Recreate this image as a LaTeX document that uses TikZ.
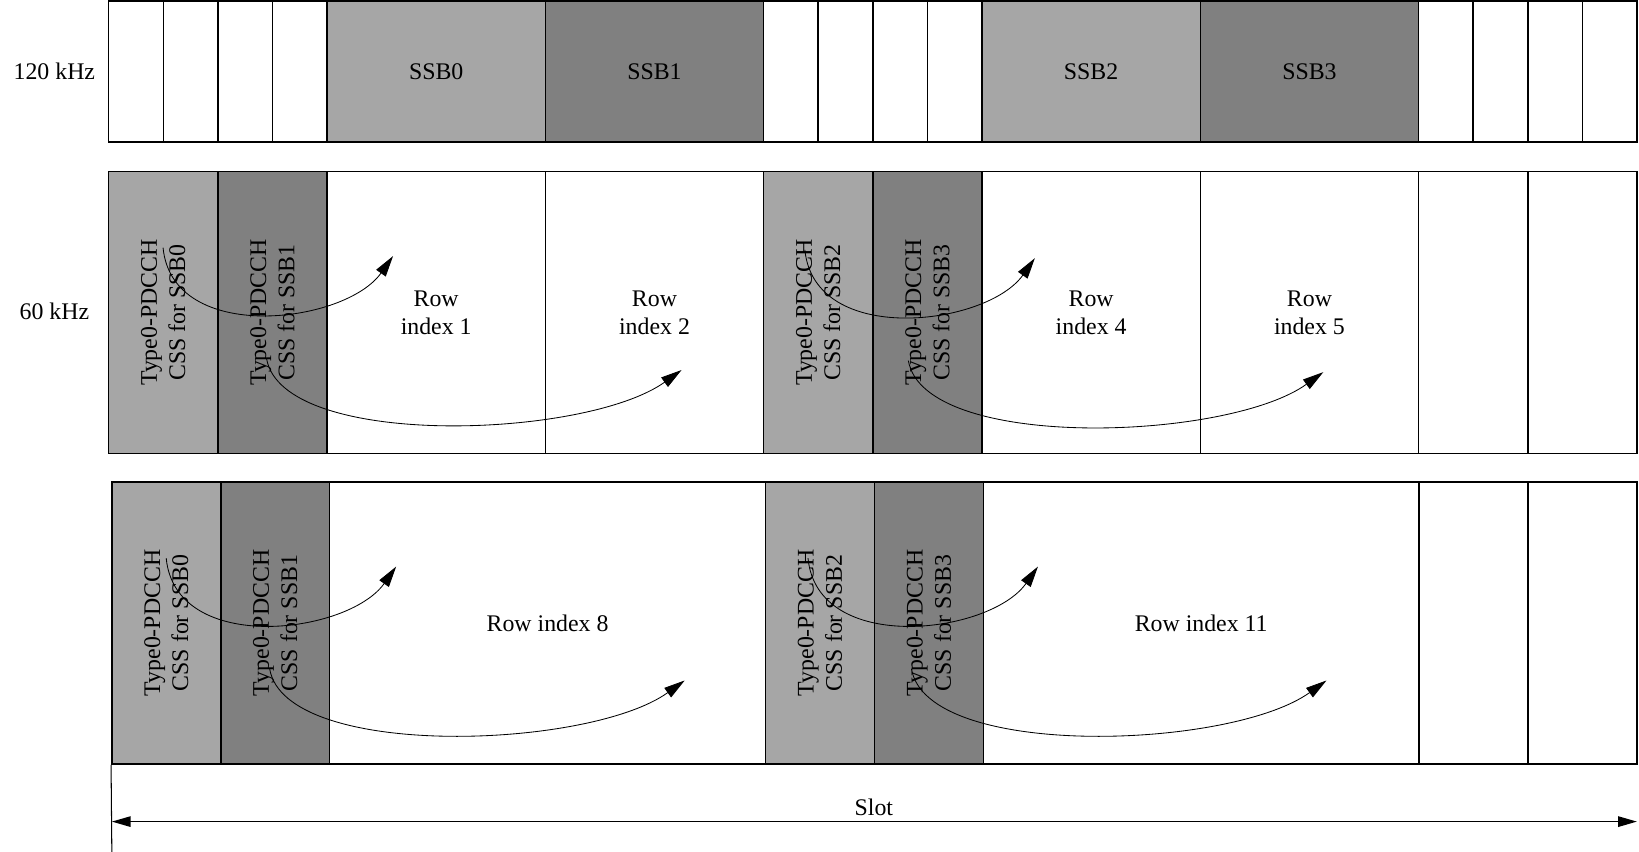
\documentclass[tikz,border=0pt]{standalone}
\usepackage{fontspec}
\setmainfont{Liberation Serif}
\usetikzlibrary{arrows.meta}
\definecolor{lightg}{RGB}{166,166,166}
\definecolor{darkg}{RGB}{128,128,128}
\tikzset{
  cellbox/.style={draw=black, line width=1.5pt, inner sep=0pt, align=center,
    font=\fontsize{22.8}{27}\selectfont},
  lbl/.style={inner sep=0pt, align=center, font=\fontsize{22.8}{27}\selectfont},
  curvearrow/.style={line width=0.8pt, -{Triangle[length=20pt,width=11pt]}},
  slotarrow/.style={line width=1.4pt, {Triangle[length=18pt,width=10pt]}-{Triangle[length=18pt,width=10pt]}},
}
\newcommand\arrowpair[3]{%
  \begin{scope}[shift={(#2,#3)}]
    \coordinate (#1us) at (156,237); \coordinate (#1ue) at (376,245);
    \coordinate (#1ls) at (255,343); \coordinate (#1le) at (652,354);
  \end{scope}
  \draw[curvearrow] (#1us) .. controls +(9,93) and +(-46,65) .. (#1ue);
  \draw[curvearrow] (#1ls) .. controls +(15,87) and +(-92,66) .. (#1le);
}
\begin{document}
\begin{tikzpicture}[x=1pt,y=-1pt]
\useasboundingbox (0,0) rectangle (1568,815);

% labels
\node[lbl] (l120) at (52,68) {120 kHz};
\node[lbl] (l60) at (52,298) {60 kHz};

% row 1 : 120 kHz
\foreach \a/\b/\f/\n/\t in {0/1/white/ra1/{},1/2/white/ra2/{},2/3/white/ra3/{},3/4/white/ra4/{},
  4/8/lightg/ra5/SSB0,8/12/darkg/ra6/SSB1,
  12/13/white/ra7/{},13/14/white/ra8/{},14/15/white/ra9/{},15/16/white/ra10/{},
  16/20/lightg/ra11/SSB2,20/24/darkg/ra12/SSB3,
  24/25/white/ra13/{},25/26/white/ra14/{},26/27/white/ra15/{},27/28/white/ra16/{}}{
  \node[cellbox, fill=\f, minimum width={(\b-\a)*52.214}, minimum height=135]
    (\n) at ({104+(\a+\b)/2*52.214},68.5) {\t};
}

% row 2 : 60 kHz
\foreach \a/\b/\f/\n/\t in {0/2/lightg/rb1/{},2/4/darkg/rb2/{},
  4/8/white/rb3/{Row\\index 1},8/12/white/rb4/{Row\\index 2},
  12/14/lightg/rb5/{},14/16/darkg/rb6/{},
  16/20/white/rb7/{Row\\index 4},20/24/white/rb8/{Row\\index 5},
  24/26/white/rb9/{},26/28/white/rb10/{}}{
  \node[cellbox, fill=\f, minimum width={(\b-\a)*52.214}, minimum height=270]
    (\n) at ({104+(\a+\b)/2*52.214},299) {\t};
}

% row 3
\foreach \a/\b/\f/\n/\t in {0/2/lightg/rc1/{},2/4/darkg/rc2/{},
  4/12/white/rc3/{Row index 8},
  12/14/lightg/rc4/{},14/16/darkg/rc5/{},
  16/24/white/rc6/{Row index 11},
  24/26/white/rc7/{},26/28/white/rc8/{}}{
  \node[cellbox, fill=\f, minimum width={(\b-\a)*52.107}, minimum height=270]
    (\n) at ({107+(\a+\b)/2*52.107},596) {\t};
}

% rotated texts
\node[lbl, rotate=90] (tb1) at (rb1.center) {Type0-PDCCH\\CSS for SSB0};
\node[lbl, rotate=90] (tb2) at (rb2.center) {Type0-PDCCH\\CSS for SSB1};
\node[lbl, rotate=90] (tb5) at (rb5.center) {Type0-PDCCH\\CSS for SSB2};
\node[lbl, rotate=90] (tb6) at (rb6.center) {Type0-PDCCH\\CSS for SSB3};
\node[lbl, rotate=90] (tc1) at (rc1.center) {Type0-PDCCH\\CSS for SSB0};
\node[lbl, rotate=90] (tc2) at (rc2.center) {Type0-PDCCH\\CSS for SSB1};
\node[lbl, rotate=90] (tc4) at (rc4.center) {Type0-PDCCH\\CSS for SSB2};
\node[lbl, rotate=90] (tc5) at (rc5.center) {Type0-PDCCH\\CSS for SSB3};

% curved arrows
\arrowpair{a}{0}{0}
\arrowpair{b}{614}{2}
\arrowpair{c}{3}{297}
\arrowpair{d}{617}{297}

% slot
\coordinate (vbot) at (107,815);
\draw[line width=1pt] (rc1.south west) -- (vbot);
\coordinate (sl) at (107,786);
\coordinate (sr) at (1566,786);
\draw[slotarrow] (sl) -- (sr);
\node[lbl] (slot) at (836,772) {Slot};
\end{tikzpicture}
\end{document}
